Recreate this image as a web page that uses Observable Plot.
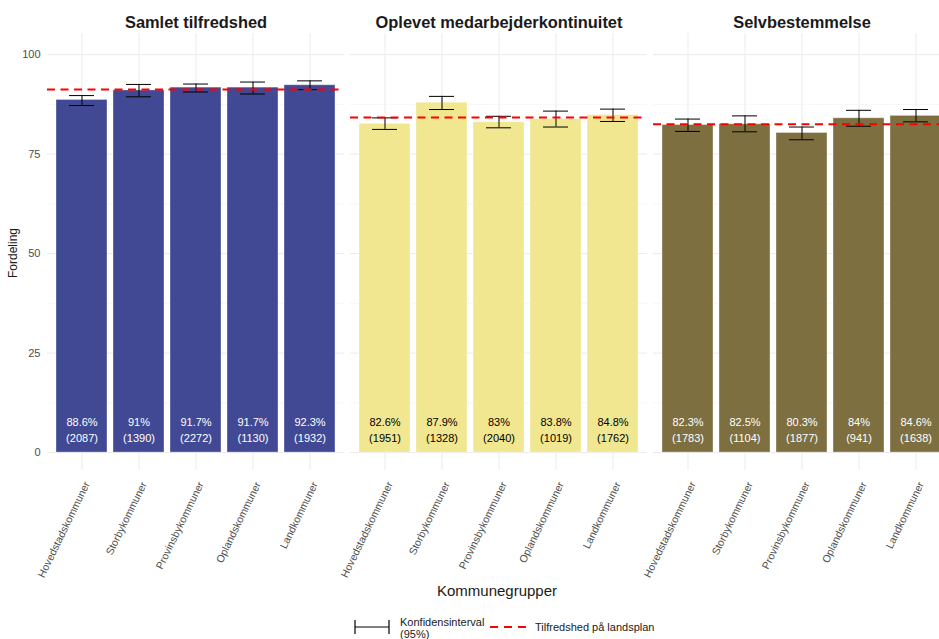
<!DOCTYPE html>
<html>
<head>
<meta charset="utf-8">
<script src="https://cdn.jsdelivr.net/npm/d3@7"></script>
<script src="https://cdn.jsdelivr.net/npm/@observablehq/plot@0.6"></script>
<style>
  html, body { margin: 0; padding: 0; background: white; overflow: hidden; }
  body { font-family: "Liberation Sans", Arial, sans-serif; width: 939px; height: 639px; position: relative; }
  #chart svg { max-width: none !important; }
  #legend { position: absolute; left: 350px; top: 612px; height: 27px; width: 400px; font-size: 11px; color: #1a1a1a; }
  #legend .item { position: absolute; top: 0; white-space: nowrap; }
</style>
</head>
<body>
<div id="chart"></div>
<div id="legend">
  <svg class="item" style="left:3px;top:6px" width="38" height="18">
    <line x1="2" y1="2" x2="2" y2="16" stroke="black" stroke-width="1.2"/>
    <line x1="2" y1="9" x2="36" y2="9" stroke="black" stroke-width="1.2"/>
    <line x1="36" y1="2" x2="36" y2="16" stroke="black" stroke-width="1.2"/>
  </svg>
  <div class="item" style="left:50px;top:4px;line-height:12px">Konfidensinterval<br>(95%)</div>
  <svg class="item" style="left:138px;top:12px" width="40" height="6">
    <line x1="2" y1="3" x2="38" y2="3" stroke="red" stroke-width="2" stroke-dasharray="8,6"/>
  </svg>
  <div class="item" style="left:185px;top:9px">Tilfredshed på landsplan</div>
</div>
<script>
const panels = ["Samlet tilfredshed", "Oplevet medarbejderkontinuitet", "Selvbestemmelse"];
const groups = ["Hovedstadskommuner", "Storbykommuner", "Provinsbykommuner", "Oplandskommuner", "Landkommuner"];
const panelColors = ["#3b4391", "#f0e68c", "#7a6a3a"];
const labelColors = ["white", "black", "white"];

const valuesSamlet = [88.6, 91, 91.7, 91.7, 92.3];
const countsSamlet = [2087, 1390, 2272, 1130, 1932];
const lowSamlet = [87.2, 89.4, 90.6, 90.1, 91.2];
const highSamlet = [89.7, 92.5, 92.6, 93.1, 93.4];

const valuesKontinuitet = [82.6, 87.9, 83, 83.8, 84.8];
const countsKontinuitet = [1951, 1328, 2040, 1019, 1762];
const lowKontinuitet = [81.2, 86.2, 81.6, 81.8, 83.2];
const highKontinuitet = [84.1, 89.5, 84.5, 85.8, 86.3];

const valuesSelv = [82.3, 82.5, 80.3, 84, 84.6];
const countsSelv = [1783, 1104, 1877, 941, 1638];
const lowSelv = [80.7, 80.6, 78.6, 82.0, 83.1];
const highSelv = [83.8, 84.6, 81.8, 86.0, 86.2];

const nationalLevel = [91.2, 84.2, 82.5];

const yTicks = [0, 25, 50, 75, 100];
const yMinor = [12.5, 37.5, 62.5, 87.5];

const series = [
  [valuesSamlet, countsSamlet, lowSamlet, highSamlet],
  [valuesKontinuitet, countsKontinuitet, lowKontinuitet, highKontinuitet],
  [valuesSelv, countsSelv, lowSelv, highSelv]
];
const rows = [];
series.forEach(([v, n, lo, hi], p) => {
  groups.forEach((g, i) => rows.push({panel: panels[p], group: g, value: v[i], n: n[i], lo: lo[i], hi: hi[i], labelColor: labelColors[p]}));
});
const natRows = panels.map((p, i) => ({panel: p, value: nationalLevel[i]}));

const W = 952, H = 605;
const chart = Plot.plot({
  width: W,
  height: H,
  marginLeft: 46,
  marginRight: 0,
  marginTop: 33,
  marginBottom: H - 470,
  style: {fontFamily: "'Liberation Sans', Arial, sans-serif", fontSize: "11px", background: "white", overflow: "visible", maxWidth: "none"},
  fx: {domain: panels, paddingInner: 0.019, paddingOuter: 0, axis: null, label: null},
  x: {domain: groups, paddingInner: 0.1, paddingOuter: 0.15, axis: null, label: null},
  y: {domain: [-4.5, 105.3], ticks: yTicks, tickSize: 0, tickPadding: 7, label: null},
  color: {domain: panels, range: panelColors},
  marks: [
    Plot.ruleY(yMinor, {stroke: "#f2f2f2", strokeWidth: 0.6}),
    Plot.ruleY(yTicks, {stroke: "#ebebeb", strokeWidth: 1}),
    Plot.ruleX(groups, {x: d => d, stroke: "#ebebeb", strokeWidth: 1}),
    Plot.barY(rows, {fx: "panel", x: "group", y: "value", fill: "panel", fillOpacity: 0.97, stroke: "white", strokeOpacity: 0.35, strokeWidth: 1}),
    Plot.ruleX(rows, {fx: "panel", x: "group", y1: "lo", y2: "hi", stroke: "black", strokeWidth: 1}),
    Plot.tickY(rows, {fx: "panel", x: "group", y: "lo", insetLeft: 13, insetRight: 13, stroke: "black", strokeWidth: 1}),
    Plot.tickY(rows, {fx: "panel", x: "group", y: "hi", insetLeft: 13, insetRight: 13, stroke: "black", strokeWidth: 1}),
    Plot.text(rows, {fx: "panel", x: "group", y: 6, text: d => `${d.value}%\n(${d.n})`, fill: "labelColor", fontSize: 11, lineHeight: 1.45}),
    Plot.ruleY(natRows, {fx: "panel", y: "value", stroke: "red", strokeWidth: 2, strokeDasharray: "8,5.5"}),
    Plot.text(panels, {fx: d => d, text: d => d, frameAnchor: "top", lineAnchor: "middle", dy: -11, fontSize: 16.4, fontWeight: "bold", fill: "#1a1a1a"}),
    Plot.text(groups, {x: d => d, text: d => d, frameAnchor: "bottom", lineAnchor: "middle", rotate: -64, textAnchor: "end", dy: 12, dx: 5, fill: "#4d4d4d", fontSize: 10.5})
  ]
});

const svg = d3.select(chart);
svg.selectAll('g[aria-label^="y-axis"] text').attr("fill", "#4d4d4d");
svg.append("text")
  .attr("transform", "translate(17,253) rotate(-90)")
  .attr("text-anchor", "middle")
  .attr("font-size", 12)
  .attr("fill", "#1a1a1a")
  .text("Fordeling");
svg.append("text")
  .attr("x", 497)
  .attr("y", 596)
  .attr("text-anchor", "middle")
  .attr("font-size", 15)
  .attr("fill", "#1a1a1a")
  .text("Kommunegrupper");

document.getElementById("chart").appendChild(chart);
</script>
</body>
</html>
